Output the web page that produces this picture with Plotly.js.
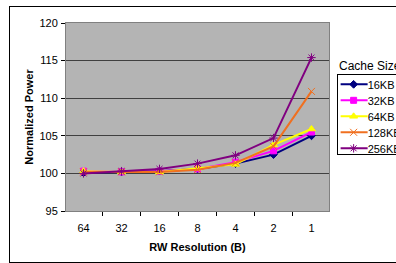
<!DOCTYPE html>
<html><head><meta charset="utf-8">
<script src="https://cdn.plot.ly/plotly-3.0.1.min.js"></script>
<style>
html,body{margin:0;padding:0;background:#fff;overflow:hidden;width:396px;height:263px}
#chart{width:440px;height:263px;position:absolute;left:0;top:0}
#frame{position:absolute;left:9px;top:6px;width:400px;height:255px;border:1.5px solid #000;pointer-events:none}
</style></head>
<body>
<div id="chart"></div>
<div id="frame"></div>
<script>
const categories = ['64','32','16','8','4','2','1'];
const seriesNames = ['16KB','32KB','64KB','128KB','256KB'];
const kb16  = [100.1, 100.2, 100.3, 100.6, 101.3, 102.5, 105.0];
const kb32  = [100.3, 100.2, 100.3, 100.6, 101.5, 103.0, 105.5];
const kb64  = [100.3, 100.2, 100.2, 100.7, 101.2, 103.8, 105.9];
const kb128 = [100.2, 100.2, 100.2, 100.5, 101.4, 103.6, 110.9];
const kb256 = [100.0, 100.3, 100.6, 101.3, 102.4, 104.7, 115.4];
const yTicks = [95, 100, 105, 110, 115, 120];

const values = [kb16, kb32, kb64, kb128, kb256];
const colors = ['#000080', '#ff00ff', '#ffff00', '#f07020', '#800080'];
const symbols = ['diamond', 'square', 'triangle-up', 'x-thin-open', 'asterisk-open'];
const sizes = [6, 6, 7, 7, 7];

const traces = values.map((v, i) => ({
  x: categories, y: v, name: seriesNames[i], type: 'scatter', mode: 'lines+markers',
  line: {color: colors[i], width: 2},
  marker: {symbol: symbols[i], size: sizes[i], color: colors[i], line: {color: colors[i], width: 1}}
}));

const font = {family: 'Liberation Sans, Arial, sans-serif', size: 11, color: '#000'};
const layout = {
  width: 440, height: 263,
  margin: {l: 66, r: 111, t: 23, b: 52},
  paper_bgcolor: '#fff', plot_bgcolor: '#b4b4b4',
  font: font,
  showlegend: true,
  xaxis: {
    type: 'category', tickson: 'boundaries', ticks: 'outside', ticklen: 4, tickcolor: '#000',
    ticklabelstandoff: 7,
    showline: true, linecolor: '#808080', linewidth: 1, mirror: true,
    showgrid: false, zeroline: false, fixedrange: true,
    tickfont: font,
    title: {text: 'RW Resolution (B)', font: {family: font.family, size: 11, color: '#000', weight: 'bold'}, standoff: 10}
  },
  yaxis: {
    range: [95, 120], tickvals: yTicks, ticks: 'outside', ticklen: 4, tickcolor: '#000',
    ticklabelstandoff: 1,
    showline: true, linecolor: '#808080', linewidth: 1, mirror: true,
    showgrid: true, gridcolor: '#404040', gridwidth: 1, zeroline: false,
    tickfont: font,
    title: {text: 'Normalized Power', font: {family: font.family, size: 11, color: '#000', weight: 'bold'}, standoff: 3}
  },
  legend: {
    x: 1.029, xanchor: 'left', y: 0.727, yanchor: 'top',
    bgcolor: '#fff', bordercolor: '#000', borderwidth: 1,
    font: {family: font.family, size: 11, color: '#000'},
    itemwidth: 30, tracegroupgap: 0
  },
  annotations: [{
    text: 'Cache Size', xref: 'paper', yref: 'paper', x: 1.032, y: 0.771,
    xanchor: 'left', yanchor: 'middle', showarrow: false,
    font: {family: font.family, size: 12, color: '#000'}
  }]
};
Plotly.newPlot('chart', traces, layout, {displayModeBar: false, staticPlot: true}).then(gd => {
  // compact the legend entries like the original (tighter rows, shorter samples)
  const leg = gd.querySelector('.legend');
  if (!leg) return;
  const items = leg.querySelectorAll('.traces');
  let x0 = null;
  items.forEach((t, i) => {
    const m = (t.getAttribute('transform') || '').match(/translate\(\s*([-\d.]+)[ ,]+([-\d.]+)\s*\)/);
    if (!m) return;
    if (x0 === null) x0 = parseFloat(m[1]);
    t.setAttribute('transform', 'translate(' + x0 + ',' + (10 + i * 16) + ')');
    t.querySelectorAll('.legendlines path').forEach(p => p.setAttribute('d', 'M3,0h27'));
    t.querySelectorAll('.legendpoints path.scatterpts').forEach(p => p.setAttribute('transform', 'translate(16,0)'));
    const tx = t.querySelector('text.legendtext');
    if (tx) {
      tx.setAttribute('x', 30);
      tx.querySelectorAll('tspan').forEach(s => { if (s.hasAttribute('x')) s.setAttribute('x', 30); });
    }
  });
  const bg = leg.querySelector('rect.bg');
  if (bg) bg.setAttribute('height', 80);
});
</script>
</body></html>
